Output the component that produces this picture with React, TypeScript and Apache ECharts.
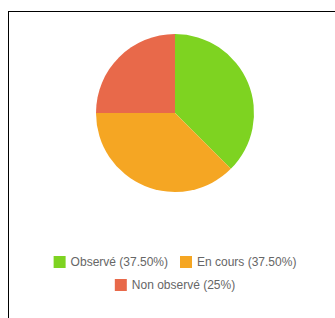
import React, { useEffect, useRef } from "react";
import * as echarts from "echarts";

const categories = ["Observé", "En cours", "Non observé"];
const values = [3, 3, 2];
const colors = ["#7ED321", "#F5A623", "#E8694A"];

function pctLabel(v: number, total: number): string {
  const p = (v / total) * 100;
  return Number.isInteger(p) ? `${p}%` : `${p.toFixed(2)}%`;
}

export default function App() {
  const ref = useRef<HTMLDivElement>(null);
  useEffect(() => {
    if (!ref.current) return;
    const chart = echarts.init(ref.current, undefined, { renderer: "svg" });
    const total = values.reduce((a, b) => a + b, 0);
    const labels: Record<string, string> = {};
    categories.forEach((c, i) => {
      labels[c] = `${c} (${pctLabel(values[i], total)})`;
    });
    const legendBase = {
      orient: "horizontal" as const,
      left: "center",
      padding: 0,
      itemWidth: 12,
      itemHeight: 12,
      itemGap: 12,
      icon: "rect",
      textStyle: { color: "#666", fontSize: 12, fontFamily: "Liberation Sans, Arial, sans-serif" },
      formatter: (name: string) => labels[name],
    };
    chart.setOption({
      animation: false,
      color: colors,
      legend: [
        { ...legendBase, top: 244, data: categories.slice(0, 2) },
        { ...legendBase, top: 267, data: categories.slice(2) },
      ],
      series: [
        {
          type: "pie",
          center: ["50%", 101],
          radius: 79,
          startAngle: 90,
          clockwise: true,
          label: { show: false },
          labelLine: { show: false },
          emphasis: { disabled: true },
          data: categories.map((c, i) => ({ name: c, value: values[i] })),
        },
      ],
    });
    return () => chart.dispose();
  }, []);

  return (
    <div style={{ position: "absolute", left: 0, top: 0, width: 335, height: 318, overflow: "hidden" }}>
      <div
        style={{
          position: "absolute",
          left: 8,
          top: 11,
          width: 340,
          height: 320,
          borderTop: "1px solid #000",
          borderLeft: "1px solid #000",
        }}
      />
      <div ref={ref} style={{ position: "absolute", left: 9, top: 12, width: 332, height: 306 }} />
    </div>
  );
}
